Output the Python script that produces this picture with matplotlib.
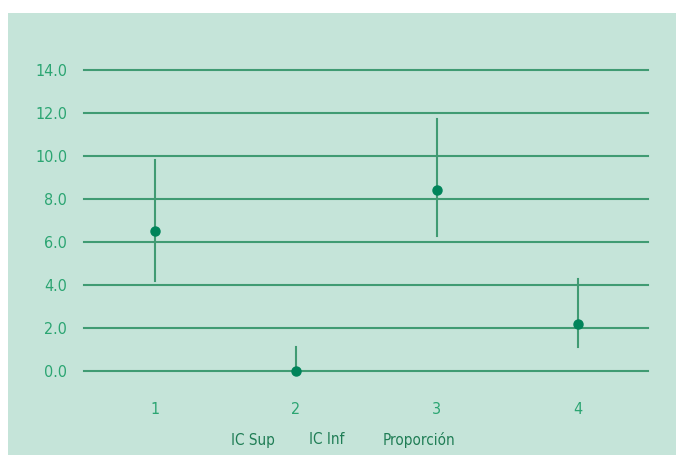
import matplotlib
matplotlib.use("Agg")
import matplotlib.pyplot as plt
from matplotlib.patches import Rectangle

categories = [1, 2, 3, 4]
proporcion = [6.5, 0.0, 8.4, 2.2]
ic_sup = [9.8, 1.1, 11.7, 4.3]
ic_inf = [4.2, 0.0, 6.3, 1.1]
yticks = [0.0, 2.0, 4.0, 6.0, 8.0, 10.0, 12.0, 14.0]
legend_labels = ["IC Sup", "IC Inf", "Proporción"]

bg = "#c5e4d9"
grid_c = "#409b73"
mark_c = "#00845a"
tick_c = "#2ba572"
text_c = "#1f7d55"
font = ["Liberation Sans Narrow", "DejaVu Sans"]

fig = plt.figure(figsize=(6.76, 4.55), dpi=100)
fig.patch.set_facecolor("white")
fig.add_artist(Rectangle((8/676, 0), 1 - 8/676, 1 - 13/455, transform=fig.transFigure,
                         facecolor=bg, edgecolor="none", zorder=0))

ax = fig.add_axes([84/676, 1 - 371/455, (648-84)/676, (371-70)/455])
ax.set_facecolor("none")
ax.set_xlim(0.5, 4.5)
ax.set_ylim(0, 14)
for s in ax.spines.values():
    s.set_visible(False)
for y in yticks:
    ax.axhline(y, color=grid_c, lw=1.5, zorder=1, clip_on=False)

for x, p, hi, lo in zip(categories, proporcion, ic_sup, ic_inf):
    ax.plot([x, x], [lo, hi], color=grid_c, lw=1.5, zorder=2, clip_on=False)
    ax.plot([x], [p], "o", color=mark_c, ms=6.5, zorder=3, clip_on=False)

ax.set_yticks(yticks)
ax.set_yticklabels([f"{v:.1f}" for v in yticks], fontsize=11.5, color=tick_c,
                   family=font, fontstretch="condensed")
ax.set_xticks(categories)
ax.set_xticklabels([str(c) for c in categories], fontsize=11.5, color=tick_c,
                   family=font, fontstretch="condensed")
ax.tick_params(axis="both", length=0)
ax.tick_params(axis="y", pad=12)
ax.tick_params(axis="x", pad=22)

xs = [253, 327, 419]
for lab, x in zip(legend_labels, xs):
    fig.text(x/676, 1 - 440/455, lab, ha="center", va="center", fontsize=11,
             color=text_c, family=font, fontstretch="condensed")

fig.savefig("out.png", dpi=100)
